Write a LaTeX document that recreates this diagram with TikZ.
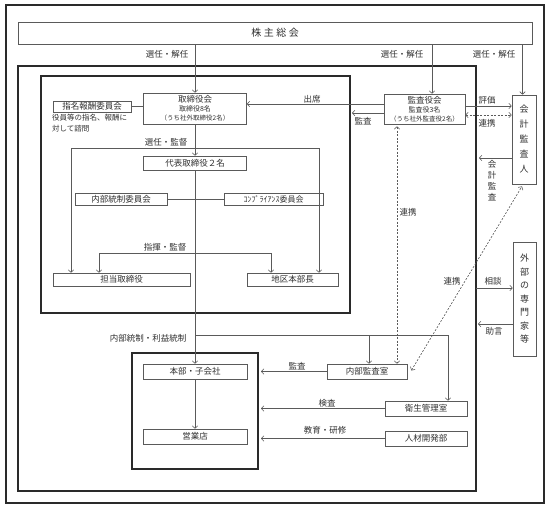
\documentclass[tikz,border=0pt]{standalone}
\usepackage{fontspec}
\setmainfont{Noto Sans CJK JP}
\usetikzlibrary{arrows.meta}
\definecolor{ln}{HTML}{5A5A5A}
\definecolor{fr}{HTML}{2A2A2A}
\definecolor{tx}{HTML}{303030}
\newcommand{\fsz}[1]{\fontsize{#1}{#1}\selectfont}
\begin{document}
\begin{tikzpicture}[x=1pt,y=-1pt,
  every node/.style={text=tx},
  box/.style={draw=ln, line width=0.6pt, inner sep=0pt, align=center, font=\fsz{8.5}},
  frame/.style={draw=fr, line width=1.1pt},
  conn/.style={draw=ln, line width=0.6pt},
  arr/.style={conn, -{Straight Barb[length=2.5pt,width=5.5pt]}},
  darr/.style={conn, dash pattern=on 2pt off 1.5pt, {Straight Barb[length=2.5pt,width=5.5pt]}-{Straight Barb[length=2.5pt,width=5.5pt]}},
  lab/.style={inner sep=0pt, font=\fsz{8.5}},
]
\useasboundingbox (0,0) rectangle (549,507);
% frames
\draw[frame] (6,5) rectangle (544,503);
\draw[frame] (18,66) rectangle (476,491);
\draw[frame] (41,76) rectangle (350,313);
\draw[frame] (132,353) rectangle (258,469);

% nodes
\node[box, minimum width=514pt, minimum height=22pt, font=\fsz{10}] (kabu) at (275,33) {株\hspace{2.5pt}主\hspace{2.5pt}総\hspace{2.5pt}会};
\node[box, minimum width=103pt, minimum height=31pt, font=\fontsize{7}{9}\selectfont] (tori) at (195,108.5)
  {{\fsz{8.5}取締役会}\\取締役8名\\{\fsz{6.5}（うち社外取締役2名）}};
\node[box, minimum width=78pt, minimum height=11pt, font=\fsz{8.5}] (shimei) at (92,106.5) {指名報酬委員会};
\node[lab, anchor=north west, align=left, font=\fontsize{7.5}{11}\selectfont] (note) at (52,114) {役員等の指名、報酬に\\対して諮問};
\node[box, minimum width=103pt, minimum height=14pt, font=\fsz{8.5}] (daihyo) at (195,163) {代表取締役２名};
\node[box, minimum width=92pt, minimum height=12pt, font=\fsz{8.5}] (naibu) at (121,199) {内部統制委員会};
\node[box, minimum width=99pt, minimum height=12pt, font=\fsz{8}] (comp) at (273.5,199) {ｺﾝﾌﾟﾗｲｱﾝｽ委員会};
\node[box, minimum width=137pt, minimum height=13pt] (tanto) at (121.5,279.5) {担当取締役};
\node[box, minimum width=91pt, minimum height=13pt] (chiku) at (292.5,279.5) {地区本部長};
\node[box, minimum width=81pt, minimum height=30pt, font=\fontsize{7}{9}\selectfont] (kansa) at (424.5,109)
  {{\fsz{8.5}監査役会}\\監査役3名\\{\fsz{6.5}（うち社外監査役2名）}};
\node[box, minimum width=24pt, minimum height=89pt, font=\fontsize{9}{15}\selectfont] (kaikei) at (524,139.5) {会\\計\\監\\査\\人};
\node[box, minimum width=23pt, minimum height=114pt, font=\fontsize{9}{13.5}\selectfont] (gaibu) at (524.5,299) {外\\部\\の\\専\\門\\家\\等};
\node[box, minimum width=104pt, minimum height=15pt] (honbu) at (195,371.5) {本部・子会社};
\node[box, minimum width=104pt, minimum height=15pt] (eigyo) at (195,436.5) {営業店};
\node[box, minimum width=80pt, minimum height=15pt] (naikan) at (367,371.5) {内部監査室};
\node[box, minimum width=82pt, minimum height=15pt] (eisei) at (426,408.5) {衛生管理室};
\node[box, minimum width=82pt, minimum height=15pt] (jinzai) at (426,438.5) {人材開発部};

% labels
\node[lab] (l1) at (167,54) {選任・解任};
\node[lab] (l2) at (402,54) {選任・解任};
\node[lab] (l3) at (494,54) {選任・解任};
\node[lab] (l4) at (166,142) {選任・監督};
\node[lab] (l5) at (165,247) {指揮・監督};
\node[lab] (l6) at (312,99) {出席};
\node[lab] (l7) at (363,121) {監査};
\node[lab] (l8) at (487,100) {評価};
\node[lab] (l9) at (487,123) {連携};
\node[lab, align=center, font=\fontsize{8.5}{11}\selectfont] (l10) at (492,181) {会\\計\\監\\査};
\node[lab] (l11) at (408,212) {連携};
\node[lab] (l12) at (452,281) {連携};
\node[lab] (l13) at (493,281) {相談};
\node[lab] (l14) at (494,331) {助言};
\node[lab] (l15) at (148,338) {内部統制・利益統制};
\node[lab] (l16) at (297,366) {監査};
\node[lab] (l17) at (327,403) {検査};
\node[lab] (l18) at (325,430) {教育・研修};

% coordinates
\coordinate (xk) at (432,0);
\coordinate (xa) at (522.5,0);
\coordinate (L1) at (71,148);
\coordinate (R1) at (319,148);
\coordinate (L2) at (99,253);
\coordinate (R2) at (271,253);
\coordinate (ctl) at (195,335);
\coordinate (ctr) at (448,335);
\coordinate (cm) at (369,335);
\coordinate (xd) at (397,0);
\coordinate (kan) at (352,113);
\coordinate (kai) at (479,158);
\coordinate (sod) at (476,288);
\coordinate (jog) at (478,324);
\coordinate (gx) at (261,0);

% connectors
\draw[arr] (kabu.south -| tori.north) -- (tori.north);
\draw[arr] (xk |- kabu.south) -- (xk |- kansa.north);
\draw[arr, line width=0.7pt] (xa |- kabu.south) -- (xa |- kaikei.north);
\draw[conn] (shimei.east) -- (shimei.east -| tori.west);
\draw[arr] (tori.south) -- (daihyo.north);
\draw[conn] (L1) -- (R1);
\draw[arr] (L1) -- (L1 |- tanto.north);
\draw[arr] (R1) -- (R1 |- chiku.north);
\draw[conn] (naibu.east) -- (comp.west);
\draw[conn] (L2) -- (R2);
\draw[arr] (L2) -- (L2 |- tanto.north);
\draw[arr] (R2) -- (R2 |- chiku.north);
\draw[arr] (daihyo.south) -- (honbu.north);
\draw[arr] (honbu.south) -- (eigyo.north);
\draw[conn] (ctl) -- (ctr);
\draw[arr] (cm) -- (cm |- naikan.north);
\draw[arr] (ctr) -- (ctr |- eisei.north);
\coordinate (s1) at ([yshift=5pt]kansa.west);
\draw[arr] (s1) -- (s1 -| tori.east);
\draw[arr] (kan -| kansa.west) -- (kan);
\coordinate (s2) at ([yshift=3pt]kansa.east);
\draw[arr] (s2) -- (s2 -| kaikei.west);
\coordinate (s3) at ([yshift=-6pt]kansa.east);
\draw[darr] (s3) -- (s3 -| kaikei.west);
\draw[arr] (kai -| kaikei.west) -- (kai);
\draw[arr] (sod) -- (sod -| gaibu.west);
\draw[arr] (jog -| gaibu.west) -- (jog);
\draw[darr] ([yshift=-2pt]xd |- kansa.south) -- (xd |- naikan.north);
\draw[darr] ([xshift=4pt,yshift=1pt]naikan.east) -- ([xshift=-2pt,yshift=-2pt]kaikei.south);
\draw[arr] (naikan.west) -- (naikan.west -| gx);
\draw[arr] (eisei.west) -- (eisei.west -| gx);
\draw[arr] (jinzai.west) -- (jinzai.west -| gx);
\end{tikzpicture}
\end{document}
